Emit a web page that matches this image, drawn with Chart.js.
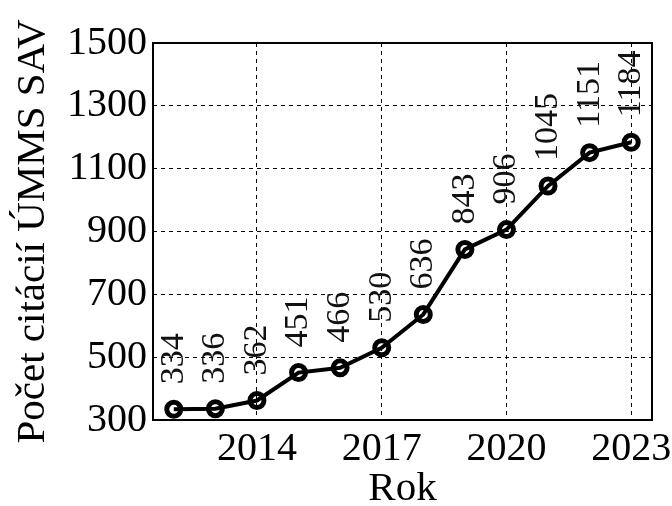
<!DOCTYPE html>
<html>
<head>
<meta charset="utf-8">
<script src="https://cdn.jsdelivr.net/npm/chart.js@4/dist/chart.umd.min.js"></script>
<style>
    body { margin: 0; background: #fff; }
</style>
</head>
<body>
<canvas id="graf" width="672" height="506"></canvas>
<script>
// Údaje grafu
const roky = [2012, 2013, 2014, 2015, 2016, 2017, 2018, 2019, 2020, 2021, 2022, 2023];
const citacie = [334, 336, 362, 451, 466, 530, 636, 843, 906, 1045, 1151, 1184];
const rokyPopisky = [2014, 2017, 2020, 2023];
const osY = [300, 500, 700, 900, 1100, 1300, 1500];

const pismo = "'Liberation Serif', 'Times New Roman', serif";

// Popisky hodnôt otočené o 90°
const popiskyHodnot = {
    id: 'popiskyHodnot',
    afterDatasetsDraw(chart) {
        const ctx = chart.ctx;
        const meta = chart.getDatasetMeta(0);
        ctx.save();
        ctx.font = '34px ' + pismo;
        ctx.fillStyle = '#111';
        ctx.textAlign = 'left';
        ctx.textBaseline = 'middle';
        meta.data.forEach((bod, i) => {
            ctx.save();
            ctx.translate(bod.x, bod.y - 25);
            ctx.rotate(-Math.PI / 2);
            ctx.fillText(String(citacie[i]), 0, 0);
            ctx.restore();
        });
        ctx.restore();
    }
};

// Rámček okolo grafu
const ramcek = {
    id: 'ramcek',
    afterDraw(chart) {
        const a = chart.chartArea;
        const ctx = chart.ctx;
        ctx.save();
        ctx.strokeStyle = '#000';
        ctx.lineWidth = 2;
        ctx.strokeRect(a.left, a.top, a.right - a.left, a.bottom - a.top);
        ctx.restore();
    }
};

new Chart(document.getElementById('graf'), {
    type: 'line',
    data: {
        datasets: [{
            data: roky.map((r, i) => ({ x: r, y: citacie[i] })),
            borderColor: '#000',
            borderWidth: 4,
            pointRadius: 7,
            pointBorderWidth: 5,
            pointBackgroundColor: 'rgba(0,0,0,0)',
            pointBorderColor: '#000',
            tension: 0
        }]
    },
    options: {
        responsive: false,
        animation: false,
        layout: {
            padding: { left: 0, top: 43, right: 20, bottom: 0 }
        },
        plugins: {
            legend: { display: false },
            tooltip: { enabled: false }
        },
        scales: {
            x: {
                type: 'linear',
                min: 2011.5,
                max: 2023.5,
                afterBuildTicks: function (scale) {
                    scale.ticks = rokyPopisky.map(v => ({ value: v }));
                },
                afterFit: function (scale) {
                    scale.height = 86;
                    scale.paddingLeft = 0;
                    scale.paddingRight = 0;
                },
                grid: {
                    color: '#000',
                    lineWidth: 1,
                    drawTicks: false
                },
                border: { display: false, dash: [4, 4] },
                ticks: {
                    color: '#000',
                    padding: 5,
                    maxRotation: 0,
                    font: { family: pismo, size: 40 },
                    callback: v => String(v)
                },
                title: {
                    display: true,
                    text: 'Rok',
                    color: '#000',
                    padding: 0,
                    font: { family: pismo, size: 41, lineHeight: 0.8 }
                }
            },
            y: {
                min: 300,
                max: 1500,
                afterBuildTicks: function (scale) {
                    scale.ticks = osY.map(v => ({ value: v }));
                },
                afterFit: function (scale) {
                    scale.width = 153;
                    scale.paddingTop = 0;
                    scale.paddingBottom = 0;
                },
                grid: {
                    color: '#000',
                    lineWidth: 1,
                    drawTicks: false
                },
                border: { display: false, dash: [4, 4] },
                ticks: {
                    color: '#000',
                    padding: 6,
                    font: { family: pismo, size: 40 },
                    callback: v => String(v)
                },
                title: {
                    display: true,
                    text: 'Počet citácií ÚMMS SAV',
                    color: '#000',
                    padding: { top: 9, bottom: 0 },
                    font: { family: pismo, size: 41 }
                }
            }
        }
    },
    plugins: [popiskyHodnot, ramcek]
});
</script>
</body>
</html>
